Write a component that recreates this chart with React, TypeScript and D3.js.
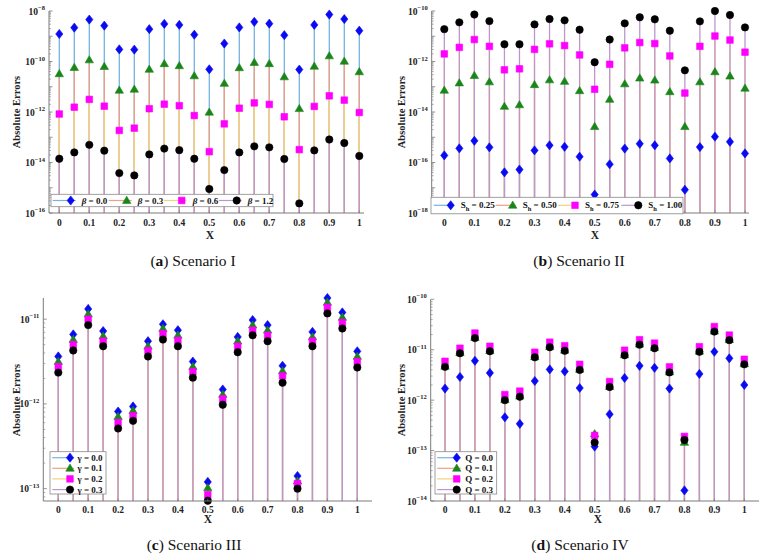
import React from 'react';
import * as d3 from 'd3';

const xValues = [0, 0.05, 0.1, 0.15, 0.2, 0.25, 0.3, 0.35, 0.4, 0.45, 0.5, 0.55, 0.6, 0.65, 0.7, 0.75, 0.8, 0.85, 0.9, 0.95, 1];
const xTickValues = [0, 0.1, 0.2, 0.3, 0.4, 0.5, 0.6, 0.7, 0.8, 0.9, 1];
const xTickLabels = ['0', '0.1', '0.2', '0.3', '0.4', '0.5', '0.6', '0.7', '0.8', '0.9', '1'];

// Scenario I (beta)
const aBeta00 = [1.23e-9, 2.19e-9, 4.57e-9, 2.63e-9, 3.02e-10, 2.95e-10, 1.91e-9, 3.09e-9, 2.82e-9, 1.15e-9, 4.9e-11, 5.13e-10, 2.24e-9, 3.72e-9, 3.16e-9, 1.1e-9, 4.79e-11, 2.82e-9, 7.24e-9, 4.79e-9, 1.66e-9];
const aBeta03 = [3.24e-11, 5.75e-11, 1.15e-10, 6.31e-11, 7.24e-12, 7.94e-12, 4.9e-11, 8.13e-11, 6.76e-11, 2.69e-11, 9.77e-13, 1.35e-11, 5.62e-11, 9.12e-11, 8.13e-11, 2.45e-11, 1.35e-12, 6.46e-11, 1.66e-10, 1.02e-10, 3.89e-11];
const aBeta06 = [8.32e-13, 1.55e-12, 3.16e-12, 1.7e-12, 1.86e-13, 2.29e-13, 1.35e-12, 2.04e-12, 1.78e-12, 7.24e-13, 2.69e-14, 3.39e-13, 1.41e-12, 2.29e-12, 2.0e-12, 6.46e-13, 3.24e-14, 1.66e-12, 4.37e-12, 2.95e-12, 9.55e-13];
const aBeta12 = [1.41e-14, 2.51e-14, 5.01e-14, 2.95e-14, 3.8e-15, 3.09e-15, 2.09e-14, 3.55e-14, 3.09e-14, 1.41e-14, 8.91e-16, 5.01e-15, 2.51e-14, 4.37e-14, 3.98e-14, 1.38e-14, 2.4e-16, 3.02e-14, 8.13e-14, 5.89e-14, 1.82e-14];
const aLabels = ['0.0', '0.3', '0.6', '1.2'];

// Scenario II (S_h)
const bSh025 = [1.91e-16, 3.63e-16, 7.24e-16, 3.98e-16, 4.07e-17, 5.25e-17, 3.02e-16, 4.79e-16, 4.17e-16, 1.7e-16, 5.37e-18, 8.51e-17, 3.55e-16, 5.5e-16, 4.79e-16, 1.45e-16, 8.32e-18, 4.07e-16, 1.05e-15, 6.61e-16, 2.29e-16];
const bSh050 = [7.24e-14, 1.41e-13, 2.75e-13, 1.55e-13, 1.66e-14, 1.91e-14, 1.2e-13, 1.86e-13, 1.62e-13, 6.92e-14, 2.63e-15, 3.16e-14, 1.29e-13, 2.19e-13, 1.82e-13, 6.31e-14, 2.63e-15, 1.55e-13, 3.89e-13, 2.63e-13, 8.71e-14];
const bSh075 = [2.0e-12, 3.63e-12, 7.41e-12, 3.98e-12, 4.68e-13, 5.13e-13, 3.02e-12, 5.01e-12, 4.27e-12, 1.82e-12, 7.94e-14, 7.76e-13, 3.47e-12, 5.62e-12, 5.13e-12, 1.66e-12, 5.62e-14, 3.98e-12, 1.02e-11, 7.08e-12, 2.34e-12];
const bSh100 = [1.91e-11, 3.55e-11, 7.24e-11, 3.98e-11, 4.79e-12, 4.79e-12, 2.95e-11, 4.79e-11, 4.27e-11, 1.82e-11, 9.33e-13, 7.41e-12, 3.24e-11, 5.62e-11, 4.68e-11, 1.66e-11, 4.47e-13, 3.89e-11, 1.0e-10, 6.92e-11, 2.24e-11];
const bLabels = ['0.25', '0.50', '0.75', '1.00'];

// Scenario III (gamma)
const cGamma00 = [3.63e-12, 6.61e-12, 1.32e-11, 7.24e-12, 8.13e-13, 9.33e-13, 5.5e-12, 8.71e-12, 7.41e-12, 3.16e-12, 1.2e-13, 1.48e-12, 6.17e-12, 9.77e-12, 8.51e-12, 2.82e-12, 1.41e-13, 7.08e-12, 1.82e-11, 1.2e-11, 4.17e-12];
const cGamma01 = [3.16e-12, 5.75e-12, 1.15e-11, 6.31e-12, 7.08e-13, 8.32e-13, 4.79e-12, 7.76e-12, 6.46e-12, 2.75e-12, 1.02e-13, 1.29e-12, 5.5e-12, 8.51e-12, 7.41e-12, 2.45e-12, 1.23e-13, 6.17e-12, 1.58e-11, 1.05e-11, 3.63e-12];
const cGamma02 = [2.75e-12, 5.01e-12, 1.0e-11, 5.5e-12, 6.03e-13, 7.24e-13, 4.27e-12, 6.76e-12, 5.62e-12, 2.4e-12, 8.51e-14, 1.15e-12, 4.79e-12, 7.41e-12, 6.46e-12, 2.14e-12, 1.15e-13, 5.5e-12, 1.38e-11, 9.12e-12, 3.16e-12];
const cGamma03 = [2.34e-12, 4.27e-12, 8.51e-12, 4.79e-12, 5.13e-13, 6.31e-13, 3.63e-12, 5.75e-12, 4.79e-12, 2.04e-12, 7.2e-14, 9.77e-13, 4.07e-12, 6.46e-12, 5.5e-12, 1.78e-12, 1.0e-13, 4.79e-12, 1.17e-11, 7.76e-12, 2.69e-12];
const cLabels = ['0.0', '0.1', '0.2', '0.3'];

// Scenario IV (Q)
const dQ00 = [1.7e-12, 2.88e-12, 6.03e-12, 3.47e-12, 4.57e-13, 3.39e-13, 2.4e-12, 4.07e-12, 3.72e-12, 1.74e-12, 1.2e-13, 5.25e-13, 2.75e-12, 4.79e-12, 4.37e-12, 1.7e-12, 1.62e-14, 3.31e-12, 9.12e-12, 6.76e-12, 2.0e-12];
const dQ01 = [4.68e-12, 8.71e-12, 1.74e-11, 9.55e-12, 1.02e-12, 1.2e-12, 7.24e-12, 1.15e-11, 9.77e-12, 4.07e-12, 2.14e-13, 1.86e-12, 7.94e-12, 1.29e-11, 1.1e-11, 3.63e-12, 1.45e-13, 9.33e-12, 2.34e-11, 1.58e-11, 5.25e-12];
const dQ02 = [5.89e-12, 1.07e-11, 2.14e-11, 1.17e-11, 1.29e-12, 1.51e-12, 8.91e-12, 1.41e-11, 1.2e-11, 5.13e-12, 2.0e-13, 2.34e-12, 9.77e-12, 1.58e-11, 1.35e-11, 4.57e-12, 1.91e-13, 1.15e-11, 2.88e-11, 1.95e-11, 6.46e-12];
const dQ03 = [4.57e-12, 8.51e-12, 1.7e-11, 9.33e-12, 1.0e-12, 1.17e-12, 7.08e-12, 1.12e-11, 9.55e-12, 3.98e-12, 1.45e-13, 1.82e-12, 7.76e-12, 1.26e-11, 1.07e-11, 3.55e-12, 1.62e-13, 9.12e-12, 2.29e-11, 1.55e-11, 5.13e-12];
const dLabels = ['0.0', '0.1', '0.2', '0.3'];

const FONT = '"Liberation Serif", "Times New Roman", serif';
const STEM_COLORS = ['#74B3E2', '#EFA084', '#F4D27C', '#BF95CF'];
const MARKER_FILL = ['#0A0AF2', '#1A861A', '#FF00FF', '#000000'];
const MARKER_TYPES = ['diamond', 'triangle', 'square', 'circle'];
const AXIS_COLOR = '#7a7a7a';

function markerPath(type: string, cx: number, cy: number): string {
  const p = d3.path();
  if (type === 'diamond') {
    p.moveTo(cx, cy - 4.6); p.lineTo(cx + 3.6, cy); p.lineTo(cx, cy + 4.6); p.lineTo(cx - 3.6, cy); p.closePath();
  } else if (type === 'triangle') {
    p.moveTo(cx, cy - 4.3); p.lineTo(cx + 4.2, cy + 2.9); p.lineTo(cx - 4.2, cy + 2.9); p.closePath();
  } else if (type === 'square') {
    p.rect(cx - 3.3, cy - 3.3, 6.6, 6.6);
  } else {
    p.arc(cx, cy, 3.7, 0, Math.PI * 2);
  }
  return p.toString();
}

function Marker({ i, cx, cy }: { i: number; cx: number; cy: number }) {
  return <path d={markerPath(MARKER_TYPES[i], cx, cy)} fill={MARKER_FILL[i]} stroke={MARKER_FILL[i]} strokeWidth={0.6} />;
}

type LegendCfg = {
  kind: 'row' | 'col';
  box: [number, number, number, number];
  markerX: number[];
  rowY: number[];
  lineBefore: number;
  lineAfter: number;
  textGap: number;
};

type PanelCfg = {
  id: string;
  series: number[][];
  legendLabels: string[];
  legendSymbol: 'beta' | 'sh' | 'gamma' | 'q';
  xRange: [number, number];
  axisX: [number, number];
  yRange: [number, number];
  yDomain: [number, number];
  labelExps: number[];
  yLabelPos: [number, number];
  xLabelPos: [number, number];
  xTickY: number;
  caption: [string, string];
  captionPos: [number, number];
  legend: LegendCfg;
};

const panels: PanelCfg[] = [
  {
    id: 'a', series: [aBeta00, aBeta03, aBeta06, aBeta12], legendLabels: aLabels, legendSymbol: 'beta',
    xRange: [59.3, 359.3], axisX: [49, 364], yRange: [213, 11], yDomain: [1e-16, 1e-8],
    labelExps: [-8, -10, -12, -14, -16], yLabelPos: [16, 112], xLabelPos: [210, 239], xTickY: 225.5,
    caption: ['a', ' Scenario I'], captionPos: [193, 266],
    legend: { kind: 'row', box: [51, 194.3, 222, 12.4], markerX: [70.7, 126.7, 181.7, 236.7], rowY: [200.5], lineBefore: 18, lineAfter: 5, textGap: 11 },
  },
  {
    id: 'b', series: [bSh025, bSh050, bSh075, bSh100], legendLabels: bLabels, legendSymbol: 'sh',
    xRange: [444.3, 745], axisX: [431.7, 749], yRange: [213, 11], yDomain: [1e-18, 1e-10],
    labelExps: [-10, -12, -14, -16, -18], yLabelPos: [401, 112], xLabelPos: [595, 239], xTickY: 225.5,
    caption: ['b', ' Scenario II'], captionPos: [579, 266],
    legend: { kind: 'row', box: [431, 197.3, 252, 16.5], markerX: [450.7, 512.7, 575, 638.3], rowY: [205.3], lineBefore: 17, lineAfter: 3, textGap: 10 },
  },
  {
    id: 'c', series: [cGamma00, cGamma01, cGamma02, cGamma03], legendLabels: cLabels, legendSymbol: 'gamma',
    xRange: [58.3, 357.3], axisX: [43.3, 372], yRange: [501, 298], yDomain: [Math.pow(10, -13.146), Math.pow(10, -10.75)],
    labelExps: [-11, -12, -13], yLabelPos: [16, 400], xLabelPos: [208, 523], xTickY: 512.5,
    caption: ['c', ' Scenario III'], captionPos: [194, 550],
    legend: { kind: 'col', box: [50, 451.7, 56, 42.3], markerX: [70], rowY: [457.7, 468.3, 478.9, 489.6], lineBefore: 17.7, lineAfter: 4, textGap: 7.5 },
  },
  {
    id: 'd', series: [dQ00, dQ01, dQ02, dQ03], legendLabels: dLabels, legendSymbol: 'q',
    xRange: [445, 744.3], axisX: [430.7, 759], yRange: [501, 299.3], yDomain: [1e-14, 1e-10],
    labelExps: [-10, -11, -12, -13, -14], yLabelPos: [401, 400], xLabelPos: [598, 523], xTickY: 512.5,
    caption: ['d', ' Scenario IV'], captionPos: [580, 550],
    legend: { kind: 'col', box: [435, 451.7, 61.7, 42.3], markerX: [456.7], rowY: [457.7, 468.3, 478.9, 489.6], lineBefore: 19.5, lineAfter: 4, textGap: 8.5 },
  },
];

function LegendText({ sym, label, x, y }: { sym: string; label: string; x: number; y: number }) {
  const common = { x, y, dy: '0.35em', fontFamily: FONT, fontWeight: 700, fontSize: 9, fill: '#111' } as any;
  if (sym === 'beta') {
    return <text {...common}><tspan fontStyle="italic">β</tspan>{` = ${label}`}</text>;
  }
  if (sym === 'sh') {
    return <text {...common}>S<tspan fontSize={6.5} dy={2.5}>h</tspan><tspan dy={-2.5}>{` = ${label}`}</tspan></text>;
  }
  if (sym === 'gamma') {
    return <text {...common}>γ{` = ${label}`}</text>;
  }
  return <text {...common}>{`Q = ${label}`}</text>;
}

function Panel({ cfg }: { cfg: PanelCfg }) {
  const x = d3.scaleLinear().domain([0, 1]).range(cfg.xRange);
  const y = d3.scaleLog().domain(cfg.yDomain).range(cfg.yRange);
  const [yBottom, yTop] = cfg.yRange;
  const axisLeft = cfg.axisX[0];
  const lo = Math.floor(Math.log10(cfg.yDomain[0]));
  const hi = Math.ceil(Math.log10(cfg.yDomain[1]));
  const minor: number[] = [];
  const major: number[] = [];
  for (let e = lo; e <= hi; e++) {
    const v = Math.pow(10, e);
    if (v >= cfg.yDomain[0] * 0.999 && v <= cfg.yDomain[1] * 1.001) major.push(v);
    for (let k = 2; k <= 9; k++) {
      const m = k * v;
      if (m > cfg.yDomain[0] && m < cfg.yDomain[1]) minor.push(m);
    }
  }
  const clampY = (v: number) => Math.max(Math.min(y(v), yBottom), yTop);
  const lg = cfg.legend;
  return (
    <g>
      {cfg.series.map((s, si) => (
        <g key={'st' + si}>
          {s.map((v, i) => (
            <line key={i} x1={x(xValues[i])} x2={x(xValues[i])} y1={yBottom} y2={clampY(v)} stroke={STEM_COLORS[si]} strokeWidth={1.3} />
          ))}
        </g>
      ))}
      {cfg.series.map((s, si) => (
        <g key={'mk' + si}>
          {s.map((v, i) => (
            <Marker key={i} i={si} cx={x(xValues[i])} cy={clampY(v)} />
          ))}
        </g>
      ))}
      <line x1={axisLeft} x2={axisLeft} y1={yTop} y2={yBottom} stroke={AXIS_COLOR} strokeWidth={1} />
      <line x1={axisLeft} x2={cfg.axisX[1]} y1={yBottom} y2={yBottom} stroke={AXIS_COLOR} strokeWidth={1} />
      {minor.map((m, i) => (
        <line key={'mn' + i} x1={axisLeft} x2={axisLeft + 2} y1={y(m)} y2={y(m)} stroke={AXIS_COLOR} strokeWidth={0.6} />
      ))}
      {major.map((m, i) => (
        <line key={'mj' + i} x1={axisLeft} x2={axisLeft + 3.5} y1={y(m)} y2={y(m)} stroke={AXIS_COLOR} strokeWidth={0.8} />
      ))}
      {xTickValues.map((t, i) => (
        <line key={'xt' + i} x1={x(t)} x2={x(t)} y1={yBottom} y2={yBottom - 2.5} stroke={AXIS_COLOR} strokeWidth={0.7} />
      ))}
      {cfg.labelExps.map((e) => (
        <text key={'yl' + e} x={axisLeft - 4} y={y(Math.pow(10, e)) + 3.5} textAnchor="end" fontFamily={FONT} fontWeight={700} fontSize={9.5} fill="#222">
          10<tspan fontSize={6.5} dy={-4.5}>{String(e).replace('-', '−')}</tspan>
        </text>
      ))}
      {xTickValues.map((t, i) => (
        <text key={'xl' + i} x={x(t)} y={cfg.xTickY} textAnchor="middle" fontFamily={FONT} fontWeight={700} fontSize={9.5} fill="#222">{xTickLabels[i]}</text>
      ))}
      <text x={cfg.xLabelPos[0]} y={cfg.xLabelPos[1]} textAnchor="middle" fontFamily={FONT} fontWeight={700} fontSize={11.5} fill="#222">X</text>
      <text transform={`translate(${cfg.yLabelPos[0]},${cfg.yLabelPos[1]}) rotate(-90)`} textAnchor="middle" dy="0.35em" fontFamily={FONT} fontWeight={700} fontSize={10.5} fill="#222">Absolute Errors</text>
      <rect x={lg.box[0]} y={lg.box[1]} width={lg.box[2]} height={lg.box[3]} fill="#fff" stroke="#8a8a8a" strokeWidth={0.8} />
      {cfg.legendLabels.map((lab, i) => {
        const mx = lg.kind === 'row' ? lg.markerX[i] : lg.markerX[0];
        const my = lg.kind === 'row' ? lg.rowY[0] : lg.rowY[i];
        return (
          <g key={'lg' + i}>
            <line x1={mx - lg.lineBefore} x2={mx + lg.lineAfter} y1={my} y2={my} stroke={STEM_COLORS[i]} strokeWidth={1.2} />
            <Marker i={i} cx={mx} cy={my} />
            <LegendText sym={cfg.legendSymbol} label={lab} x={mx + lg.textGap} y={my} />
          </g>
        );
      })}
      <text x={cfg.captionPos[0]} y={cfg.captionPos[1]} textAnchor="middle" fontFamily={FONT} fontSize={15.5} fill="#111">
        (<tspan fontWeight={700}>{cfg.caption[0]}</tspan>){cfg.caption[1]}
      </text>
    </g>
  );
}

export default function App() {
  return (
    <svg width={774} height={560} style={{ position: 'absolute', left: 0, top: 0, background: '#fff' }}>
      <rect x={0} y={0} width={774} height={560} fill="#fff" />
      {panels.map((p) => (
        <Panel key={p.id} cfg={p} />
      ))}
    </svg>
  );
}
